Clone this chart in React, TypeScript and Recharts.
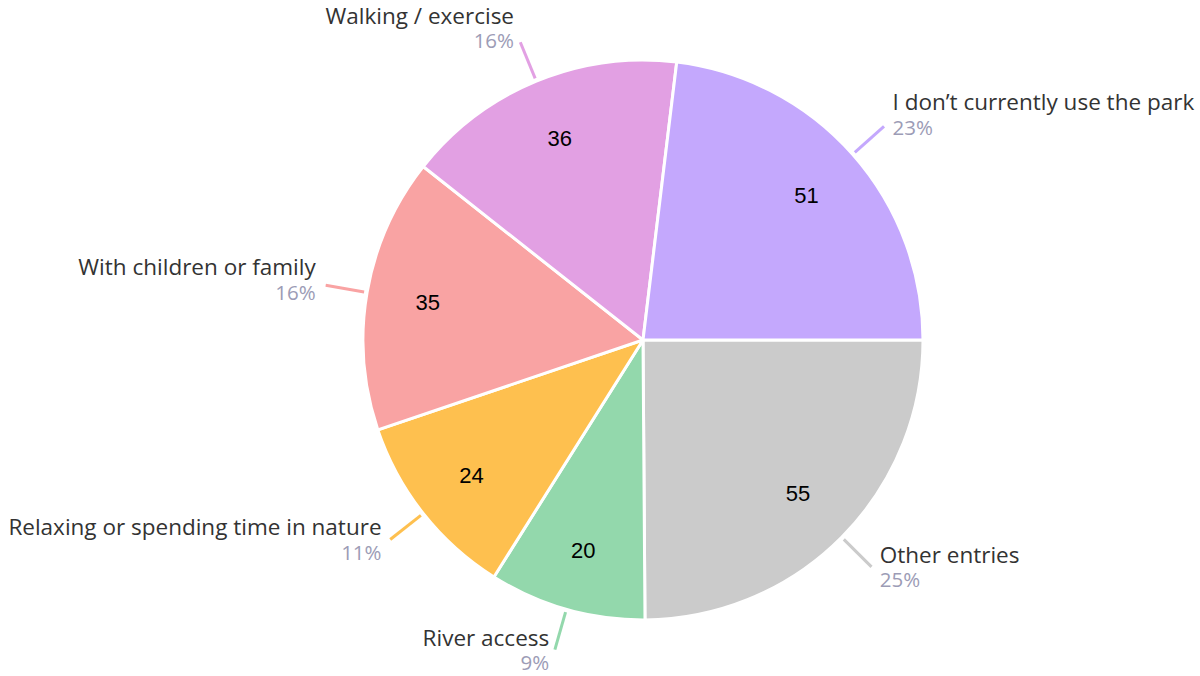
import React from "react";
import { PieChart, Pie, Cell } from "recharts";

const categories = [
  "Other entries",
  "River access",
  "Relaxing or spending time in nature",
  "With children or family",
  "Walking / exercise",
  "I don\u2019t currently use the park",
];
const counts = [55, 20, 24, 35, 36, 51];
const colors = ["#CBCBCB", "#93D8AC", "#FEC04F", "#F9A3A3", "#E2A0E3", "#C4A8FD"];

const data = categories.map((name, i) => ({ name, value: counts[i] }));

const RADIAN = Math.PI / 180;
const labelFont = "'Open Sans', Lato, sans-serif";

const renderLabel = (props: any) => {
  const { cx, cy, midAngle, outerRadius, percent, value, name, index } = props;
  const cos = Math.cos(-midAngle * RADIAN);
  const sin = Math.sin(-midAngle * RADIAN);
  const color = colors[index];

  // inner value
  const rIn = outerRadius * 0.78;
  const ix = cx + rIn * cos;
  const iy = cy + rIn * sin;

  // leader line
  const sx = cx + (outerRadius + 3) * cos;
  const sy = cy + (outerRadius + 3) * sin;
  const ex = cx + (outerRadius + 42) * cos;
  const ey = cy + (outerRadius + 42) * sin;

  const right = cos >= 0;
  const gap = 4 + 6 * Math.abs(cos);
  const tx = right ? ex + gap : ex - gap;
  const up = sin < 0 ? 15 * Math.sqrt(-sin) : 0;
  const centerY = ey - up;

  return (
    <g>
      <text
        x={ix}
        y={iy}
        textAnchor="middle"
        dominantBaseline="central"
        fill="#000"
        fontSize={22}
        fontFamily="'Liberation Sans', Arial, sans-serif"
      >
        {value}
      </text>
      <line x1={sx} y1={sy} x2={ex} y2={ey} stroke={color} strokeWidth={3} />
      <text
        x={tx}
        y={centerY - 12.5}
        textAnchor={right ? "start" : "end"}
        dominantBaseline="central"
        fill="#333333"
        fontSize={22.5}
        fontFamily={labelFont}
      >
        {name}
      </text>
      <text
        x={tx}
        y={centerY + 12.5}
        textAnchor={right ? "start" : "end"}
        dominantBaseline="central"
        fill="#9C9CB6"
        fontSize={20.5}
        fontFamily={labelFont}
      >
        {`${Math.round(percent * 100)}%`}
      </text>
    </g>
  );
};

export default function App() {
  return (
    <div style={{ position: "absolute", left: 0, top: 0, width: 1200, height: 676, background: "#fff" }}>
      <PieChart width={1200} height={676} margin={{ top: 0, right: 0, bottom: 0, left: 0 }}>
        <Pie
          data={data}
          dataKey="value"
          nameKey="name"
          cx={643}
          cy={340}
          outerRadius={280}
          startAngle={0}
          endAngle={-360}
          stroke="#fff"
          strokeWidth={3}
          label={renderLabel}
          labelLine={false}
          isAnimationActive={false}
        >
          {data.map((d, i) => (
            <Cell key={d.name} fill={colors[i]} />
          ))}
        </Pie>
      </PieChart>
    </div>
  );
}
